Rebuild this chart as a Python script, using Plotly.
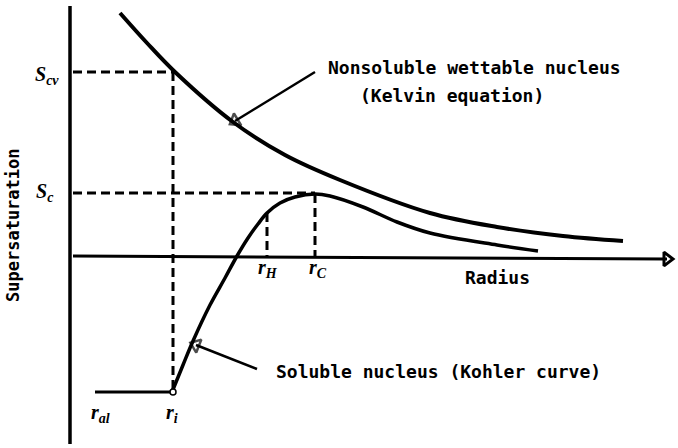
import plotly.graph_objects as go

# Schematic coordinates (arbitrary units, origin where the radius axis meets the supersaturation axis)
kelvin_r = [50, 77, 105, 163, 215, 270, 360, 427, 493, 553]
kelvin_s = [243, 213, 184, 134, 101, 76, 43, 29, 20, 15]

kohler_r = [102, 113, 123, 140, 155, 167, 178, 188, 197, 210, 225, 245, 260, 293, 327, 360, 427, 468]
kohler_s = [-136, -109, -85, -49, -22, 0, 18, 32, 43, 53, 59, 62, 60, 49, 34, 23, 11, 5]

dry_r = [25, 102]
dry_s = [-136, -136]

s_cv, s_c = 184, 63
r_i, r_h, r_c = 103, 197, 245
s_h = 43

axis_r = [3, 597]
axis_s = [0, -3]

FONT = "DejaVu Sans Mono"
LBL = "Liberation Serif"

fig = go.Figure()


def line(x, y, width=3, dash=None, shape="linear"):
    fig.add_trace(go.Scatter(
        x=x, y=y, mode="lines",
        line=dict(color="black", width=width, dash=dash, shape=shape),
        hoverinfo="skip",
    ))


def arrow(x, y, size=11, width=2.5):
    fig.add_trace(go.Scatter(
        x=x, y=y, mode="lines+markers",
        line=dict(color="black", width=width),
        marker=dict(symbol=["circle", "triangle-up-open"], size=[0, size],
                    angleref="previous", color="black",
                    line=dict(color="black", width=2.5)),
        hoverinfo="skip", cliponaxis=False,
    ))


# axes
line([0, 0], [250, -188], width=3.5)
line(axis_r, axis_s, width=3)
fig.add_trace(go.Scatter(
    x=[axis_r[-1]], y=[axis_s[-1]], mode="markers",
    marker=dict(symbol="triangle-right-open", size=12, color="black",
                line=dict(color="black", width=3)),
    hoverinfo="skip", cliponaxis=False,
))

# dashed guide lines
dash = "9px,5px"
line([3, r_i], [s_cv, s_cv], width=3, dash=dash)
line([r_i, r_i], [s_cv, -136], width=3, dash=dash)
line([3, r_c], [s_c, s_c], width=3, dash=dash)
line([r_c, r_c], [s_c - 1, 0], width=3, dash=dash)
line([r_h, r_h], [s_h, 0], width=3, dash=dash)

# curves
line(kelvin_r, kelvin_s, width=4, shape="spline")
line(kohler_r, kohler_s, width=3.5, shape="spline")
line(dry_r, dry_s, width=3)
fig.add_trace(go.Scatter(
    x=[r_i], y=[-136], mode="markers",
    marker=dict(symbol="circle", size=6, color="white", line=dict(color="black", width=1.5)),
    hoverinfo="skip",
))

# pointer arrows
arrow([245, 165], [184, 135], size=12, width=2.5)
arrow([187, 126], [-113, -89], size=12, width=2.5)

texts = [
    (404, 189, "Nonsoluble wettable nucleus", "center", 18, 0),
    (382, 161, "(Kelvin equation)", "center", 18, 0),
    (204, -115, "Soluble nucleus (Kohler curve)", "left", 18, 0),
    (427, -21, "Radius", "center", 18, 0),
    (-57, 31, "Supersaturation", "center", 17, -90),
]
for x, y, t, xa, sz, ang in texts:
    fig.add_annotation(x=x, y=y, text="<b>" + t + "</b>", showarrow=False, xanchor=xa,
                       textangle=ang, font=dict(family=FONT, size=sz, color="black"))

labels = [
    (-23, 181, "<b><i>S</i></b><sub><b><i>cv</i></b></sub>"),
    (-25, 64, "<b><i>S</i></b><sub><b><i>c</i></b></sub>"),
    (198, -12, "<b><i>r</i></b><sub><b><i>H</i></b></sub>"),
    (248, -12, "<b><i>r</i></b><sub><b><i>C</i></b></sub>"),
    (30, -157, "<b><i>r</i></b><sub><b><i>al</i></b></sub>"),
    (102, -157, "<b><i>r</i></b><sub><b><i>i</i></b></sub>"),
]
for x, y, t in labels:
    fig.add_annotation(x=x, y=y, text=t, showarrow=False,
                       font=dict(family=LBL, size=20, color="black"))

fig.update_xaxes(range=[-70, 608], visible=False)
fig.update_yaxes(range=[-192, 256], visible=False)
fig.update_layout(
    width=678, height=448,
    margin=dict(l=0, r=0, t=0, b=0),
    plot_bgcolor="white", paper_bgcolor="white",
    showlegend=False,
)

fig.write_html("out.html", config={"displayModeBar": False},
               post_script="document.body.style.margin='0';")
